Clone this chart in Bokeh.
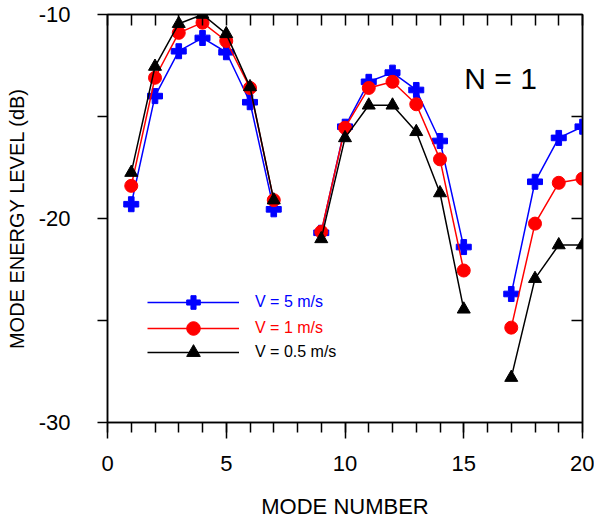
import math
from bokeh.plotting import figure
from bokeh.models import (LinearAxis, FixedTicker, Range1d, Legend, LegendItem, Label,
                          CustomJSTickFormatter)
from bokeh.embed import file_html
from bokeh.resources import INLINE

NAN = float("nan")

# Mode numbers 1..20 (modes 8 and 16 have no value, so the curves break there)
mode = list(range(1, 21))

level_v5 = [-19.3, -14.0, -11.8, -11.15, -11.85, -14.3, -19.55, NAN,
            -20.7, -15.5, -13.3, -12.85, -13.7, -16.2, -21.4, NAN,
            -23.7, -18.2, -16.05, -15.5]
level_v1 = [-18.4, -13.1, -10.9, -10.4, -11.3, -13.6, -19.1, NAN,
            -20.65, -15.55, -13.6, -13.3, -14.4, -17.1, -22.55, NAN,
            -25.35, -20.25, -18.25, -18.05]
level_v05 = [-17.75, -12.55, -10.45, -10.0, -10.95, -13.55, -19.1, NAN,
             -21.0, -16.05, -14.45, -14.45, -15.75, -18.75, -24.45, NAN,
             -27.8, -22.95, -21.3, -21.3]

series_labels = ["V = 5 m/s", "V = 1 m/s", "V = 0.5 m/s"]
series_colors = ["#0000ff", "#ff0000", "#000000"]
series_markers = ["plus", "circle", "triangle"]
series_sizes = [15, 13, 13]

x_major = [0, 5, 10, 15, 20]
y_major = [-30, -20, -10]
y_tick_labels = ["-30", "-20", "-10"]

FONT = "Liberation Sans"

p = figure(width=594, height=521, output_backend="svg", toolbar_location=None,
           x_range=Range1d(0, 20), y_range=Range1d(-30, -10),
           x_axis_label="MODE NUMBER", y_axis_label="MODE ENERGY LEVEL (dB)")
p.min_border_left = 107
p.min_border_right = 12
p.min_border_top = 14
p.min_border_bottom = 99
p.xgrid.visible = False
p.ygrid.visible = False
p.outline_line_color = "black"
p.outline_line_width = 1.5
p.background_fill_color = "white"
p.border_fill_color = "white"

# bottom axis
xa = p.xaxis[0]
xa.ticker = FixedTicker(ticks=x_major, minor_ticks=list(range(0, 21)))
xa.major_tick_out = 16
xa.major_tick_in = 0
xa.minor_tick_out = 10
xa.minor_tick_in = 0
xa.major_label_standoff = 17
xa.axis_label_standoff = 20

# left axis, with plain hyphens in the tick labels
ya = p.yaxis[0]
ya.ticker = FixedTicker(ticks=y_major, minor_ticks=[-25, -15])
ya.major_label_overrides = dict(zip(y_major, y_tick_labels))
ya.major_tick_out = 10
ya.major_tick_in = 0
ya.minor_tick_out = 10
ya.minor_tick_in = 0
ya.major_label_standoff = 27
ya.axis_label_standoff = 8

for ax in (xa, ya):
    ax.axis_line_color = "black"
    ax.axis_line_width = 1.5
    ax.major_tick_line_width = 1.5
    ax.minor_tick_line_width = 1.5
    ax.major_tick_line_color = "black"
    ax.minor_tick_line_color = "black"
    ax.major_label_text_font = FONT
    ax.major_label_text_font_size = "22px"
    ax.major_label_text_color = "black"
    ax.axis_label_text_font = FONT
    ax.axis_label_text_font_style = "normal"
    ax.axis_label_text_color = "black"
xa.axis_label_text_font_size = "22px"
ya.axis_label_text_font_size = "20px"

# plain tick axes on the top and right edges, ticks pointing inward, no labels
no_labels = CustomJSTickFormatter(code="return ''")
top = LinearAxis(ticker=FixedTicker(ticks=list(range(0, 21)), minor_ticks=[]),
                 formatter=no_labels, major_tick_in=11, major_tick_out=0,
                 major_label_standoff=0, axis_line_width=1.5, major_tick_line_width=1.5)
right = LinearAxis(ticker=FixedTicker(ticks=[-25, -20, -15], minor_ticks=[]),
                   formatter=no_labels, major_tick_in=11, major_tick_out=0,
                   major_label_standoff=0, axis_line_width=1.5, major_tick_line_width=1.5)
p.add_layout(top, "above")
p.add_layout(right, "right")

series = [level_v5, level_v1, level_v05]
legend_rows = []
for vals, lab, col, mk, sz in zip(series, series_labels, series_colors,
                                   series_markers, series_sizes):
    ln = p.line(mode, vals, line_color=col, line_width=1.5)
    sc = p.scatter(mode, vals, marker=mk, size=sz, fill_color=col, line_color=col)
    legend_rows.append((lab, col, [ln, sc]))

# one legend per series so each label takes its series colour
legend_y = [103, 77, 53]
for (lab, col, rends), ly in zip(legend_rows, legend_y):
    lg = Legend(items=[LegendItem(label=lab, renderers=rends)],
                location=(40, ly), orientation="vertical",
                glyph_width=92, glyph_height=34, label_height=34,
                label_standoff=16, padding=0, margin=0, spacing=0,
                border_line_color=None, background_fill_alpha=0,
                label_text_font=FONT, label_text_font_size="16px",
                label_text_color=col)
    p.add_layout(lg, "center")

p.add_layout(Label(x=16.55, y=-13.15, text="N = 1", text_align="center",
                   text_baseline="middle", text_font=FONT,
                   text_font_size="30px", text_color="black"))

open("out.html", "w").write(file_html(p, INLINE))
